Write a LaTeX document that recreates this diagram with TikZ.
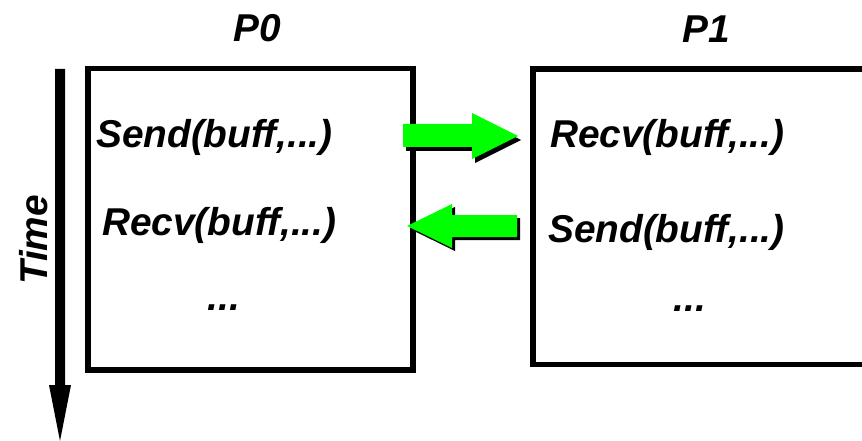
\documentclass[tikz,border=0pt]{standalone}
\usepackage{fontspec}
\setmainfont{Liberation Sans}
\usetikzlibrary{calc}
\definecolor{brightgreen}{RGB}{0,255,0}
\begin{document}
\begin{tikzpicture}[x=1pt,y=-1pt,
  lbl/.style={font=\fontsize{38.8}{42}\selectfont\bfseries\itshape, inner sep=0pt, anchor=base west},
  procbox/.style={draw, line width=5.5pt, inner sep=0pt, anchor=north west},
  msgarrow/.style={fill=brightgreen},
  msgshadow/.style={fill=black}]
\useasboundingbox (0,0) rectangle (862,441);
\clip (0,0) rectangle (862,441);
% process boxes
\node[procbox, minimum width=325pt, minimum height=301pt] (box0) at (85,66) {};
\node[procbox, minimum width=345pt, minimum height=295pt] (box1) at (530,66.5) {};
% titles
\node[lbl] (p0) at (233,42) {P0};
\node[lbl] (p1) at (682,43) {P1};
% texts in P0
\node[lbl] (send0) at (96,148) {Send(buff,...)};
\node[lbl] (recv0) at (102,235) {Recv(buff,...)};
\node[lbl, anchor=base] (dots0) at (224,310) {...};
% texts in P1
\node[lbl] (recv1) at (550,148) {Recv(buff,...)};
\node[lbl] (send1) at (548,242) {Send(buff,...)};
\node[lbl, anchor=base] (dots1) at (690,311) {...};
% time axis
\node[lbl, rotate=90] (time) at (47,285) {Time};
\coordinate (ttop) at (60,69);
\coordinate (tbot) at (60,441);
\fill ($(ttop)+(-5,0)$) -- ($(ttop)+(5,0)$) -- (65,385) -- (71,385) -- (tbot) -- (49,385) -- (55,385) -- cycle;
% message arrows: shadows
\fill[msgshadow, shift={(3,4)}] (403,124) -- (472,124) -- (472,113) -- (518,136) -- (472,159) -- (472,147) -- (403,147) -- cycle;
\fill[msgshadow, shift={(3,3)}] (517,215) -- (452,215) -- (452,204) -- (407,226) -- (452,248) -- (452,237) -- (517,237) -- cycle;
% message arrows
\fill[msgarrow] (403,124) -- (472,124) -- (472,113) -- (518,136) -- (472,159) -- (472,147) -- (403,147) -- cycle;
\fill[msgarrow] (517,215) -- (452,215) -- (452,204) -- (407,226) -- (452,248) -- (452,237) -- (517,237) -- cycle;
\end{tikzpicture}
\end{document}
